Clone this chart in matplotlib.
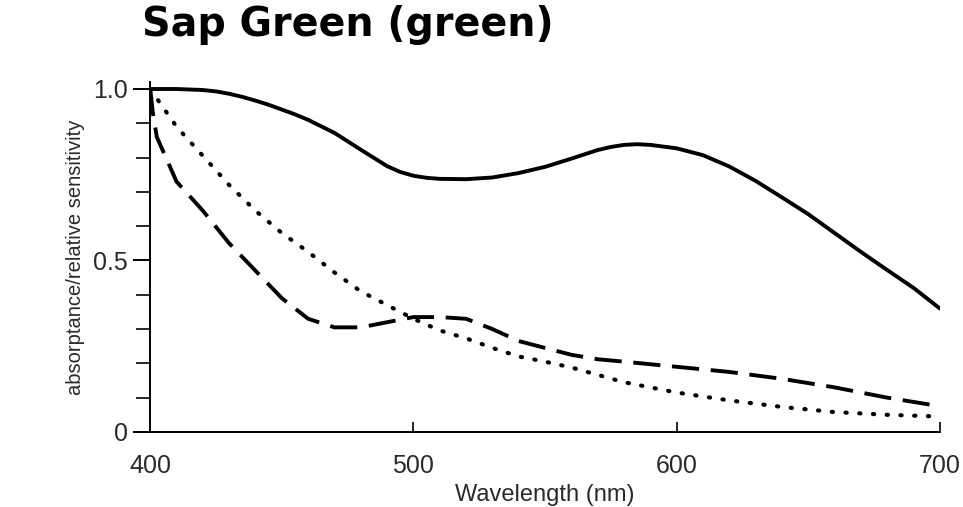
import matplotlib.pyplot as plt
from matplotlib.ticker import MultipleLocator, FixedLocator

# Wavelength grid (nm) and the three curves
wl_solid = [400, 410, 420, 425, 430, 435, 440, 445, 450, 455, 460, 470, 480, 490, 495, 500, 505, 510, 520, 530, 540,
            550, 560, 570, 575, 580, 585, 590, 600, 610, 620, 630, 640, 650, 660, 670, 680, 690, 700]
absorptance = [1.0, 1.0, 0.997, 0.993, 0.986, 0.977, 0.966, 0.954, 0.94, 0.926, 0.91, 0.872, 0.823, 0.775, 0.758, 0.747,
               0.741, 0.738, 0.737, 0.742, 0.755, 0.773, 0.797, 0.822, 0.831, 0.837, 0.839, 0.837, 0.827, 0.807,
               0.774, 0.732, 0.684, 0.635, 0.58, 0.525, 0.472, 0.42, 0.36]

wl_dash = [400, 401, 402.5, 410, 420, 430, 440, 450, 460, 470, 480, 490, 500, 510, 520, 530, 540,
           550, 560, 570, 580, 600, 620, 640, 660, 680, 700]
sens_dash = [1.0, 0.93, 0.86, 0.73, 0.645, 0.55, 0.47, 0.39, 0.33, 0.305, 0.305, 0.32, 0.335, 0.335, 0.33, 0.30, 0.265,
             0.245, 0.225, 0.212, 0.205, 0.19, 0.175, 0.155, 0.13, 0.10, 0.075]

wl_dot = [400, 405, 410, 420, 430, 440, 450, 460, 470, 480, 490, 500, 510, 520, 530, 540,
          550, 560, 580, 600, 620, 640, 660, 680, 700]
sens_dot = [1.0, 0.945, 0.89, 0.805, 0.72, 0.645, 0.58, 0.525, 0.465, 0.41, 0.37, 0.33, 0.296, 0.273, 0.245, 0.22,
            0.205, 0.188, 0.145, 0.115, 0.092, 0.073, 0.058, 0.05, 0.045]

narrow = ['Liberation Sans Narrow', 'Liberation Sans', 'DejaVu Sans']
txt = '#2a2a2a'

fig = plt.figure(figsize=(9.63, 5.07), dpi=100)
ax = fig.add_axes([0.156, 0.148, 0.82, 0.69])

ax.plot(wl_solid, absorptance, color='black', lw=2.8, solid_capstyle='round', solid_joinstyle='round')
ax.plot(wl_dash, sens_dash, color='black', lw=2.8, dashes=(7, 3), dash_joinstyle='round')
ax.plot(wl_dot, sens_dot, color='black', lw=3.0, linestyle=(0, (0.3, 3.0)), dash_capstyle='round')

ax.set_xlim(400, 700)
ax.set_ylim(0, 1.02)
for s in ['top', 'right']:
    ax.spines[s].set_visible(False)
for s in ['left', 'bottom']:
    ax.spines[s].set_linewidth(1.4)

ax.xaxis.set_major_locator(FixedLocator([400, 500, 600, 700]))
ax.yaxis.set_major_locator(FixedLocator([0, 0.5, 1.0]))
ax.yaxis.set_minor_locator(MultipleLocator(0.1))
ax.set_yticklabels(['0', '0.5', '1.0'])
ax.tick_params(axis='x', direction='in', length=7, width=1.2, pad=16, labelsize=18, labelcolor=txt)
ax.tick_params(axis='y', which='major', direction='out', length=12, width=1.4, pad=4, labelsize=18, labelcolor=txt)
ax.tick_params(axis='y', which='minor', direction='out', length=10, width=1.2)
for lab in ax.get_xticklabels() + ax.get_yticklabels():
    lab.set_family(narrow)

ax.set_xlabel('Wavelength (nm)', family=narrow, fontsize=17, color=txt, labelpad=4)
ax.set_ylabel('absorptance/relative sensitivity', family=narrow, fontsize=14.5, color=txt, labelpad=6)

fig.text(0.147, 0.95, 'Sap Green (green)', fontsize=28.5, fontweight='bold',
         family='DejaVu Sans', va='center', ha='left')

fig.savefig('out.png', dpi=100)
